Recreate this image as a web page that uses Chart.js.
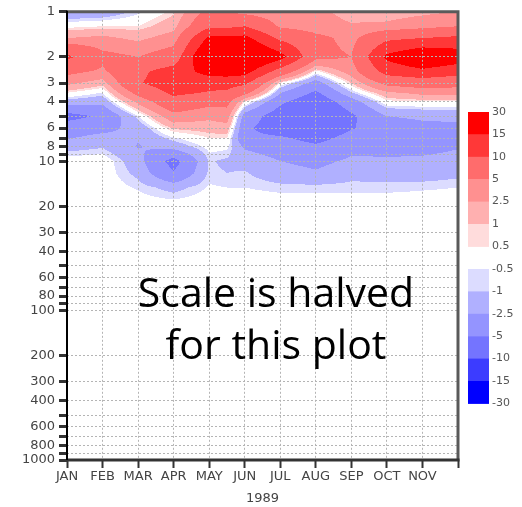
<!DOCTYPE html>
<html lang="en">
<head>
  <meta charset="UTF-8" />
  <title>Temperature anomaly contours 1989</title>
  <style>
    html, body {
      margin: 0;
      padding: 0;
      background: #fff;
    }
    #wrap {
      width: 522px;
      height: 507px;
      position: relative;
    }
  </style>
</head>
<body>
  <div id="wrap"><canvas id="contourChart"></canvas></div>

  <script src="https://cdn.jsdelivr.net/npm/chart.js@4"></script>

  <script>
    // pressure levels (hPa) of the grid rows, top to bottom
    const pressures = [1, 1.25, 1.5, 2, 2.5, 3, 3.5, 4, 5, 6, 7, 8, 10, 12, 15, 20];
    // month position of every grid column (0 = JAN, 11 = DEC)
    const colMonths = [0, 1, 2, 3, 4, 4.5, 5, 6, 7, 8, 9, 10, 11];

    // values, one list per column, same order as pressures
    const jan    = [-2.2, 0.2, 2.5, 11, 6, 3, 0.4, -1.5, -6, -3.5, -2.6, -1.5, 0, 0, 0, 0];
    const feb    = [-2, 0.5, 3, 6, 4.5, 1.5, -0.6, -2, -4.5, -3, -2, -1.1, 0.1, 0, 0, 0];
    const mar    = [-0.7, 0.5, 2, 5, 9, 9.5, 6, 3, -0.6, -2, -2.4, -2.6, -1.8, -1.3, -0.6, 0];
    const apr    = [0.8, 1.8, 3.5, 7, 12, 13, 11, 8, 4, 1.2, -0.6, -1.8, -6, -4.8, -1.4, 0];
    const may    = [6, 9, 16, 22, 17, 12, 9.5, 6, 3, 1.5, 0.5, -0.2, -0.9, -0.8, -0.4, 0];
    const midMay = [5, 9, 16, 22, 17.5, 12, 9, 6, 3.5, 1.8, 0.5, -0.3, -1.2, -1, -0.5, 0];
    const jun    = [4, 10, 16.5, 22, 17, 11, 6, 0.5, -3.5, -4.5, -4.5, -2.8, -1.4, -0.9, -0.5, 0];
    const jul    = [3, 4.5, 9, 17, 8, 0.3, -2.5, -4.5, -6.5, -6.5, -4.6, -3.5, -2.5, -1.8, -0.7, 0];
    const aug    = [3, 3.5, 6, 6, 0.2, -3.5, -5.5, -7, -8, -7.5, -6, -4.5, -3, -2.3, -0.7, 0];
    const sep    = [1.8, 2.7, 4, 5, 3.5, 1, -1.2, -3.5, -5.5, -5.2, -4, -3, -2.2, -1.4, -0.7, 0];
    const oct    = [1.5, 3, 9, 16, 12, 6, 2, 0.2, -2.5, -3.5, -3.5, -3, -2.3, -1.5, -0.7, 0];
    const nov    = [2, 4, 10, 20, 14, 7, 3, 0.4, -2.2, -3, -3.2, -3, -2.2, -1.6, -0.6, 0];
    const dec    = [2.5, 5, 11, 18, 12, 6.5, 3, 0.4, -2, -3, -3, -2.6, -2, -1.3, -0.5, 0];
    const columns = [jan, feb, mar, apr, may, midMay, jun, jul, aug, sep, oct, nov, dec];

    // axes
    const monthLabels = ['JAN', 'FEB', 'MAR', 'APR', 'MAY', 'JUN', 'JUL', 'AUG', 'SEP', 'OCT', 'NOV', ''];
    const monthTicks = [0, 1, 2, 3, 4, 5, 6, 7, 8, 9, 10, 11];
    const yTicks = [1, 2, 3, 4, 5, 6, 7, 8, 9, 10, 20, 30, 40, 50, 60, 70, 80, 90,
                    100, 200, 300, 400, 500, 600, 700, 800, 900, 1000];
    const yLabelled = [1, 2, 3, 4, 6, 8, 10, 20, 30, 40, 60, 80, 100, 200, 300, 400, 600, 800, 1000];

    // contour levels and the fill between each pair
    const contourLevels = [-30, -15, -10, -5, -2.5, -1, -0.5, 0.5, 1, 2.5, 5, 10, 15, 30];
    const contourColors = ['#0000ff', '#3c3cff', '#7474ff', '#9494ff', '#b0b0ff', '#dcdcff', null,
                           '#ffdcdc', '#ffb0b0', '#ff9090', '#ff6c6c', '#ff3838', '#ff0000'];

    function colorFor(v) {
      let k = 0;
      while (k < contourLevels.length - 2 && v >= contourLevels[k + 1]) k++;
      return contourColors[k];
    }

    // filled contours, drawn before the grid so the dotted lines sit on top
    const contourPlugin = {
      id: 'contour',
      beforeDraw(chart) {
        const { ctx, scales: { x, y } } = chart;
        const xs = colMonths.map(m => x.getPixelForValue(m));
        const ys = pressures.map(p => y.getPixelForValue(p));
        ctx.save();
        for (let j = 0; j < ys.length - 1; j++) {
          for (let py = Math.round(ys[j]); py < Math.round(ys[j + 1]); py++) {
            const ty = (py + 0.5 - ys[j]) / (ys[j + 1] - ys[j]);
            for (let i = 0; i < xs.length - 1; i++) {
              const x0 = Math.round(xs[i]), x1 = Math.round(xs[i + 1]);
              const left = columns[i][j] * (1 - ty) + columns[i][j + 1] * ty;
              const right = columns[i + 1][j] * (1 - ty) + columns[i + 1][j + 1] * ty;
              let runStart = x0, runColor = null;
              for (let px = x0; px <= x1; px++) {
                const c = px < x1
                  ? colorFor(left + (right - left) * (px + 0.5 - xs[i]) / (xs[i + 1] - xs[i]))
                  : undefined;
                if (c !== runColor) {
                  if (runColor) {
                    ctx.fillStyle = runColor;
                    ctx.fillRect(runStart, py, px - runStart, 1);
                  }
                  runStart = px;
                  runColor = c;
                }
              }
            }
          }
        }
        ctx.restore();
      }
    };

    // frame, colour bar and the note
    const decorPlugin = {
      id: 'decor',
      afterDraw(chart) {
        const { ctx, chartArea: a } = chart;
        ctx.save();

        // frame
        ctx.lineWidth = 3;
        ctx.strokeStyle = '#5a5a5a';
        ctx.beginPath();
        ctx.moveTo(a.left, a.top); ctx.lineTo(a.right, a.top); ctx.lineTo(a.right, a.bottom);
        ctx.stroke();
        ctx.strokeStyle = '#333';
        ctx.beginPath();
        ctx.moveTo(a.left, a.bottom); ctx.lineTo(a.right + 1.5, a.bottom);
        ctx.stroke();
        ctx.lineWidth = 2;
        ctx.strokeStyle = '#000';
        ctx.beginPath();
        ctx.moveTo(a.left, a.top - 1); ctx.lineTo(a.left, a.bottom);
        ctx.stroke();

        // colour bar: positive half on top, negative half below
        const barX = 468, barW = 21, seg = 22.4;
        const halves = [
          { top: 112, levels: contourLevels.filter(v => v > 0).reverse() },
          { top: 269, levels: contourLevels.filter(v => v < 0).reverse() }
        ];
        ctx.font = "11px 'DejaVu Sans', sans-serif";
        ctx.textAlign = 'left';
        ctx.textBaseline = 'middle';
        halves.forEach(h => {
          h.levels.forEach((lev, k) => {
            if (k < h.levels.length - 1) {
              const mid = (lev + h.levels[k + 1]) / 2;
              ctx.fillStyle = colorFor(mid);
              ctx.fillRect(barX, h.top + k * seg, barW, seg + 0.5);
            }
            ctx.fillStyle = '#555';
            ctx.fillText(String(lev), barX + barW + 3, h.top + k * seg);
          });
        });

        // note over the plot
        ctx.fillStyle = '#000';
        ctx.textAlign = 'center';
        ctx.textBaseline = 'alphabetic';
        ctx.font = "41px 'Open Sans', sans-serif";
        ctx.fillText('Scale is halved', 276, 307);
        ctx.fillText('for this plot', 276, 359);

        ctx.restore();
      }
    };

    const gridPoints = colMonths.flatMap((m, i) =>
      pressures.map((p, j) => ({ x: m, y: p, v: columns[i][j] })));

    const labelFont = { family: "'DejaVu Sans', sans-serif", size: 13 };

    new Chart(document.getElementById('contourChart'), {
      type: 'scatter',
      data: {
        datasets: [{ data: gridPoints, pointRadius: 0, showLine: false }]
      },
      options: {
        responsive: true,
        maintainAspectRatio: false,
        animation: false,
        events: [],
        layout: { padding: { left: 0, right: 64, top: 11, bottom: 0 } },
        plugins: {
          legend: { display: false },
          tooltip: { enabled: false }
        },
        scales: {
          x: {
            type: 'linear',
            min: 0,
            max: 11,
            afterBuildTicks: s => { s.ticks = monthTicks.map(v => ({ value: v })); },
            afterFit: s => { s.height = 47; },
            ticks: {
              callback: v => monthLabels[v],
              autoSkip: false,
              maxRotation: 0,
              padding: 1,
              color: '#444',
              font: labelFont
            },
            grid: {
              color: '#b4b4b4',
              lineWidth: 1,
              tickLength: 8,
              tickColor: '#333',
              tickWidth: 2,
              tickBorderDash: []
            },
            border: { display: false, dash: [2, 2] },
            title: {
              display: true,
              text: '1989',
              color: '#444',
              font: labelFont,
              padding: { top: 0, bottom: 1 }
            }
          },
          y: {
            type: 'logarithmic',
            reverse: true,
            min: 1,
            max: 1000,
            afterBuildTicks: s => { s.ticks = yTicks.map(v => ({ value: v })); },
            afterFit: s => { s.width = 67; },
            ticks: {
              callback: v => yLabelled.includes(v) ? String(v) : '',
              autoSkip: false,
              padding: 4,
              color: '#444',
              font: labelFont
            },
            grid: {
              color: '#b4b4b4',
              lineWidth: 1,
              tickLength: 8,
              tickColor: '#333',
              tickWidth: 3,
              tickBorderDash: []
            },
            border: { display: false, dash: [2, 2] }
          }
        }
      },
      plugins: [contourPlugin, decorPlugin]
    });
  </script>
</body>
</html>
